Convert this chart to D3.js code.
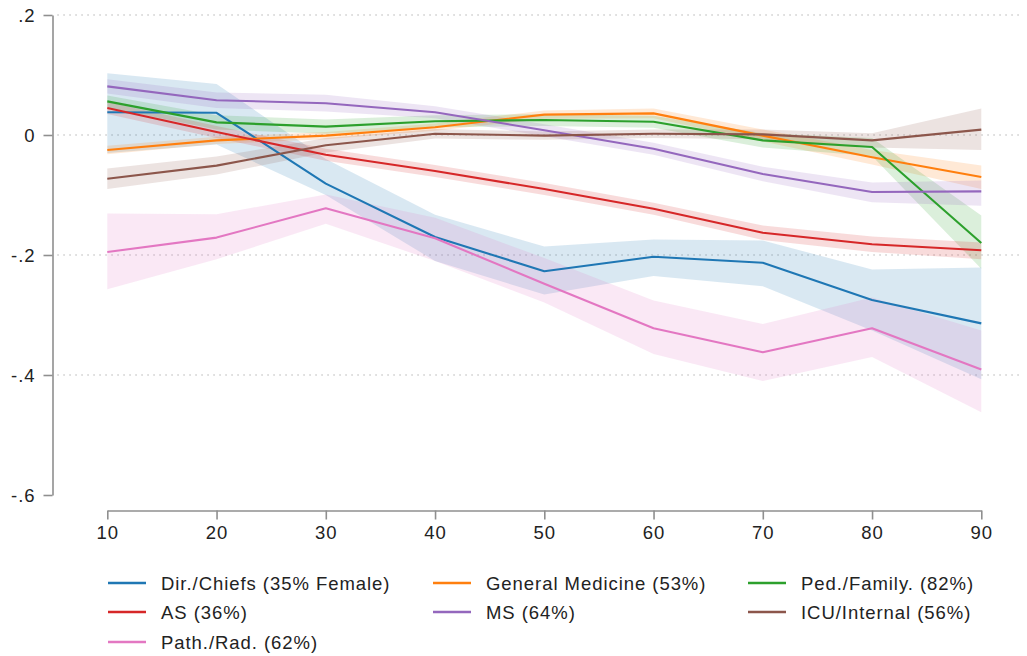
<!DOCTYPE html>
<html>
<head>
<meta charset="utf-8">
<script src="https://cdn.jsdelivr.net/npm/d3@7"></script>
<style>
  html, body { margin: 0; padding: 0; background: #fff; }
  svg { display: block; }
  text { font-family: "Liberation Sans", Arial, sans-serif; fill: #222; }
</style>
</head>
<body>
<svg id="chart" width="1027" height="656"></svg>
<script>
// Percentile bins on the x axis
const percentiles = [10, 20, 30, 40, 50, 60, 70, 80, 90];

// Axis tick values and their printed labels
const yTickValues = [0.2, 0, -0.2, -0.4, -0.6];
const yTickLabels = [".2", "0", "-.2", "-.4", "-.6"];
const xTickValues = [10, 20, 30, 40, 50, 60, 70, 80, 90];
const xTickLabels = ["10", "20", "30", "40", "50", "60", "70", "80", "90"];

// Series names
const seriesNames = [
  "Dir./Chiefs (35% Female)",
  "General Medicine (53%)",
  "Ped./Family. (82%)",
  "AS (36%)",
  "MS (64%)",
  "ICU/Internal (56%)",
  "Path./Rad. (62%)"
];

// Point estimates and confidence bounds per series
const dirChiefs     = [0.038, 0.037, -0.081, -0.170, -0.227, -0.203, -0.213, -0.275, -0.314];
const dirChiefsLo   = [-0.030, -0.016, -0.100, -0.210, -0.266, -0.235, -0.252, -0.326, -0.407];
const dirChiefsHi   = [0.103, 0.085, -0.040, -0.133, -0.186, -0.174, -0.176, -0.224, -0.221];

const genMed        = [-0.025, -0.009, -0.001, 0.013, 0.034, 0.036, -0.001, -0.037, -0.070];
const genMedLo      = [-0.032, -0.015, -0.007, 0.007, 0.027, 0.028, -0.011, -0.049, -0.090];
const genMedHi      = [-0.018, -0.003, 0.005, 0.019, 0.041, 0.044, 0.009, -0.025, -0.051];

const pedFamily     = [0.056, 0.021, 0.014, 0.023, 0.025, 0.022, -0.009, -0.020, -0.180];
const pedFamilyLo   = [0.046, 0.009, 0.002, 0.013, 0.015, 0.012, -0.021, -0.035, -0.223];
const pedFamilyHi   = [0.066, 0.033, 0.026, 0.033, 0.035, 0.032, 0.003, -0.005, -0.134];

const asGroup       = [0.045, 0.005, -0.033, -0.060, -0.090, -0.123, -0.163, -0.182, -0.192];
const asGroupLo     = [0.035, -0.005, -0.043, -0.070, -0.100, -0.133, -0.175, -0.195, -0.207];
const asGroupHi     = [0.055, 0.015, -0.023, -0.050, -0.080, -0.113, -0.151, -0.169, -0.179];

const msGroup       = [0.081, 0.058, 0.053, 0.038, 0.008, -0.023, -0.065, -0.095, -0.094];
const msGroupLo     = [0.069, 0.045, 0.039, 0.028, -0.002, -0.033, -0.077, -0.112, -0.118];
const msGroupHi     = [0.093, 0.071, 0.067, 0.048, 0.018, -0.013, -0.053, -0.079, -0.076];

const icuInternal   = [-0.073, -0.051, -0.017, 0.002, -0.001, 0.002, 0.001, -0.009, 0.009];
const icuInternalLo = [-0.090, -0.066, -0.029, -0.006, -0.008, -0.005, -0.007, -0.021, -0.025];
const icuInternalHi = [-0.056, -0.036, -0.005, 0.010, 0.006, 0.009, 0.009, 0.003, 0.044];

const pathRad       = [-0.195, -0.171, -0.122, -0.172, -0.248, -0.322, -0.362, -0.322, -0.391];
const pathRadLo     = [-0.257, -0.207, -0.148, -0.210, -0.279, -0.365, -0.410, -0.370, -0.462];
const pathRadHi     = [-0.131, -0.132, -0.099, -0.138, -0.205, -0.276, -0.315, -0.271, -0.326];

const seriesColors = ["#1f77b4", "#ff7f0e", "#2ca02c", "#d62728", "#9467bd", "#8c564b", "#e377c2"];

const series = [
  { est: dirChiefs,   lo: dirChiefsLo,   hi: dirChiefsHi },
  { est: genMed,      lo: genMedLo,      hi: genMedHi },
  { est: pedFamily,   lo: pedFamilyLo,   hi: pedFamilyHi },
  { est: asGroup,     lo: asGroupLo,     hi: asGroupHi },
  { est: msGroup,     lo: msGroupLo,     hi: msGroupHi },
  { est: icuInternal, lo: icuInternalLo, hi: icuInternalHi },
  { est: pathRad,     lo: pathRadLo,     hi: pathRadHi }
].map((s, i) => ({
  name: seriesNames[i],
  color: seriesColors[i],
  points: percentiles.map((p, j) => ({ x: p, y: s.est[j], lo: s.lo[j], hi: s.hi[j] }))
}));

const svg = d3.select("#chart");

const x = d3.scaleLinear().domain([10, 90]).range([107.3, 981.3]);
const y = d3.scaleLinear().domain([-0.6, 0.2]).range([495, 15]);

const axisColor = "#8f8f8f";
const fontSize = "18.5px";
const letterSpacing = "0.95px";

// Dotted horizontal grid
svg.append("g")
  .selectAll("line")
  .data(yTickValues.filter(v => v > -0.6))
  .join("line")
  .attr("x1", 58).attr("x2", 1024)
  .attr("y1", d => y(d)).attr("y2", d => y(d))
  .attr("stroke", "#b4b4b4")
  .attr("stroke-width", 1.3)
  .attr("stroke-linecap", "round")
  .attr("stroke-dasharray", "0.1,5.9");

// Confidence bands
const band = d3.area()
  .x(d => x(d.x))
  .y0(d => y(d.lo))
  .y1(d => y(d.hi));

svg.append("g")
  .selectAll("path")
  .data(series)
  .join("path")
  .attr("d", d => band(d.points))
  .attr("fill", d => d.color)
  .attr("fill-opacity", 0.17)
  .attr("stroke", "none");

// Estimate lines
const line = d3.line()
  .x(d => x(d.x))
  .y(d => y(d.y));

svg.append("g")
  .selectAll("path")
  .data(series)
  .join("path")
  .attr("d", d => line(d.points))
  .attr("fill", "none")
  .attr("stroke", d => d.color)
  .attr("stroke-width", 2.1)
  .attr("stroke-linejoin", "round");

// Y axis
const yAxis = d3.axisLeft(y)
  .tickValues(yTickValues)
  .tickFormat((d, i) => yTickLabels[i])
  .tickSize(9)
  .tickSizeOuter(0)
  .tickPadding(8);

const gy = svg.append("g")
  .attr("transform", "translate(52.5,0)")
  .call(yAxis);
gy.select(".domain").attr("stroke", axisColor).attr("stroke-width", 1.6);
gy.selectAll(".tick line").attr("stroke", axisColor).attr("stroke-width", 1.6);
gy.selectAll(".tick text")
  .attr("fill", "#222")
  .style("font-family", '"Liberation Sans", Arial, sans-serif')
  .style("font-size", fontSize)
  .style("letter-spacing", letterSpacing)
  .attr("dy", "0.36em");

// X axis
const xAxis = d3.axisBottom(x)
  .tickValues(xTickValues)
  .tickFormat((d, i) => xTickLabels[i])
  .tickSize(9)
  .tickSizeOuter(0)
  .tickPadding(6);

const gx = svg.append("g")
  .attr("transform", "translate(0,510.5)")
  .call(xAxis);
gx.select(".domain").attr("stroke", axisColor).attr("stroke-width", 1.6);
gx.selectAll(".tick line").attr("stroke", axisColor).attr("stroke-width", 1.6);
gx.selectAll(".tick text")
  .attr("fill", "#222")
  .style("font-family", '"Liberation Sans", Arial, sans-serif')
  .style("font-size", fontSize)
  .style("letter-spacing", letterSpacing);

// Legend: three columns
const legendCols = [108, 433, 748];
const legendRows = [583, 612, 642];
const legend = svg.append("g");
series.forEach((s, i) => {
  const cx = legendCols[i % 3];
  const cy = legendRows[Math.floor(i / 3)];
  const g = legend.append("g").attr("transform", `translate(${cx},${cy})`);
  g.append("line")
    .attr("x1", 0).attr("x2", 38)
    .attr("y1", 0).attr("y2", 0)
    .attr("stroke", s.color)
    .attr("stroke-width", 2.6);
  g.append("text")
    .attr("x", 53)
    .attr("y", 0)
    .attr("dy", "0.36em")
    .style("font-size", fontSize)
    .style("letter-spacing", letterSpacing)
    .text(s.name);
});
</script>
</body>
</html>
